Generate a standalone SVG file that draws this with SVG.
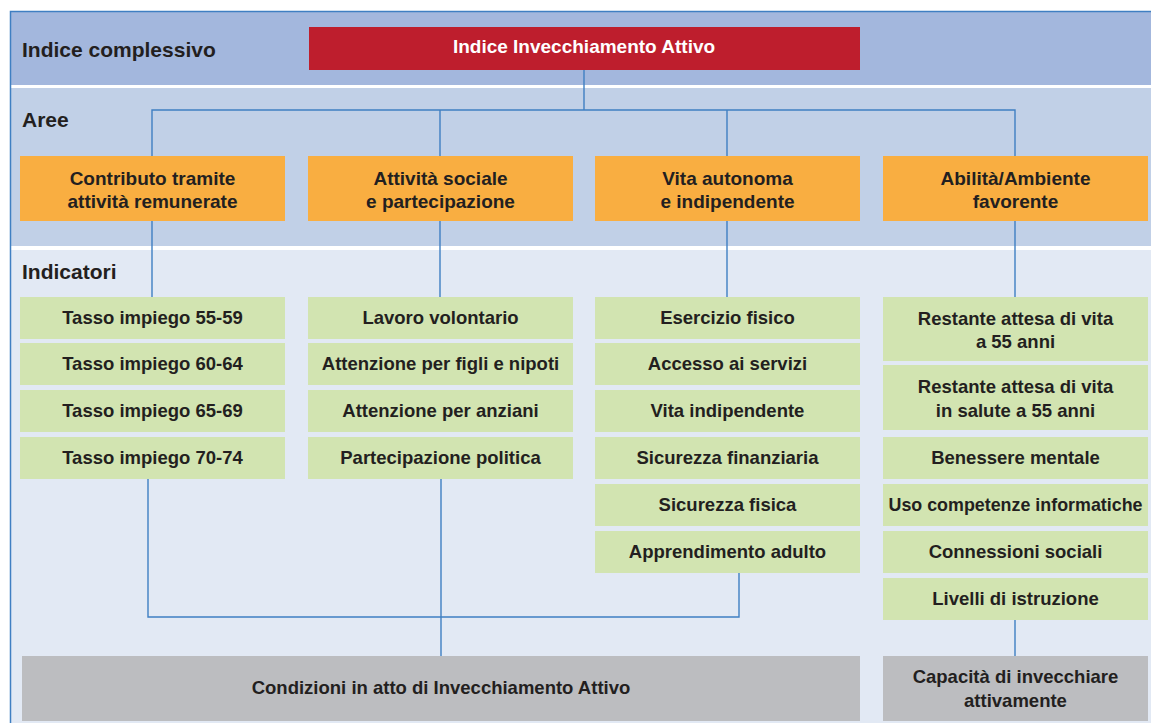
<svg xmlns="http://www.w3.org/2000/svg" width="1151" height="723" viewBox="0 0 1151 723">
<style>
text{font-family:"Liberation Sans",Arial,sans-serif;font-weight:bold;fill:#231f20;}
.t{font-size:18.5px;text-anchor:middle;}
.o{font-size:19px;text-anchor:middle;}
.h{font-size:21px;}
.g rect{fill:#d2e4b1;}
.or rect{fill:#f9ae41;}
.gr rect{fill:#bcbdc0;}
.c{stroke:#3f7fc2;stroke-width:1.4;fill:none;}
</style>
<rect x="0" y="0" width="1151" height="723" fill="#ffffff"/>
<g id="bands">
<rect x="10" y="11" width="1141" height="74" fill="#a3b7dd"/>
<rect x="10" y="88" width="1141" height="158" fill="#c1d0e7"/>
<rect x="10" y="250" width="1141" height="473" fill="#e2e9f4"/>
<path d="M10.5 723 V11.5 H1151" stroke="#3f7fc2" stroke-width="1.5" fill="none"/>
<text class="h" x="22" y="57">Indice complessivo</text>
<text class="h" x="22" y="127">Aree</text>
<text class="h" x="22" y="279">Indicatori</text>
</g>
<g id="connectors" class="c">
<path d="M584 69 V110 M152 156 V110 H1015 V156 M440 110 V156 M727 110 V156"/>
<path d="M152 221 V297 M440 221 V297 M727 221 V297 M1015 221 V297"/>
<path d="M148 479 V617 H739 V573 M441 479 V656 M1015 620 V656"/>
</g>
<g id="root">
<rect x="309" y="27" width="551" height="43" fill="#be1e2d"/>
<text x="584" y="53" style="font-size:19px;text-anchor:middle;fill:#ffffff">Indice Invecchiamento Attivo</text>
</g>
<g id="area1" class="or"><rect x="20" y="156" width="265" height="65"/><text class="o" x="152.5" y="185">Contributo tramite</text><text class="o" x="152.5" y="208">attività remunerate</text></g>
<g id="area2" class="or"><rect x="308" y="156" width="265" height="65"/><text class="o" x="440.5" y="185">Attività sociale</text><text class="o" x="440.5" y="208">e partecipazione</text></g>
<g id="area3" class="or"><rect x="595" y="156" width="265" height="65"/><text class="o" x="727.5" y="185">Vita autonoma</text><text class="o" x="727.5" y="208">e indipendente</text></g>
<g id="area4" class="or"><rect x="883" y="156" width="265" height="65"/><text class="o" x="1015.5" y="185">Abilità/Ambiente</text><text class="o" x="1015.5" y="208">favorente</text></g>

<g id="i1a" class="g"><rect x="20" y="297" width="265" height="42"/><text class="t" x="152.5" y="324">Tasso impiego 55-59</text></g>
<g id="i1b" class="g"><rect x="20" y="343" width="265" height="42"/><text class="t" x="152.5" y="370">Tasso impiego 60-64</text></g>
<g id="i1c" class="g"><rect x="20" y="390" width="265" height="42"/><text class="t" x="152.5" y="417">Tasso impiego 65-69</text></g>
<g id="i1d" class="g"><rect x="20" y="437" width="265" height="42"/><text class="t" x="152.5" y="464">Tasso impiego 70-74</text></g>

<g id="i2a" class="g"><rect x="308" y="297" width="265" height="42"/><text class="t" x="440.5" y="324">Lavoro volontario</text></g>
<g id="i2b" class="g"><rect x="308" y="343" width="265" height="42"/><text class="t" x="440.5" y="370">Attenzione per figli e nipoti</text></g>
<g id="i2c" class="g"><rect x="308" y="390" width="265" height="42"/><text class="t" x="440.5" y="417">Attenzione per anziani</text></g>
<g id="i2d" class="g"><rect x="308" y="437" width="265" height="42"/><text class="t" x="440.5" y="464">Partecipazione politica</text></g>

<g id="i3a" class="g"><rect x="595" y="297" width="265" height="42"/><text class="t" x="727.5" y="324">Esercizio fisico</text></g>
<g id="i3b" class="g"><rect x="595" y="343" width="265" height="42"/><text class="t" x="727.5" y="370">Accesso ai servizi</text></g>
<g id="i3c" class="g"><rect x="595" y="390" width="265" height="42"/><text class="t" x="727.5" y="417">Vita indipendente</text></g>
<g id="i3d" class="g"><rect x="595" y="437" width="265" height="42"/><text class="t" x="727.5" y="464">Sicurezza finanziaria</text></g>
<g id="i3e" class="g"><rect x="595" y="484" width="265" height="42"/><text class="t" x="727.5" y="511">Sicurezza fisica</text></g>
<g id="i3f" class="g"><rect x="595" y="531" width="265" height="42"/><text class="t" x="727.5" y="558">Apprendimento adulto</text></g>

<g id="i4a" class="g"><rect x="883" y="297" width="265" height="64"/><text class="t" x="1015.5" y="325">Restante attesa di vita</text><text class="t" x="1015.5" y="348">a 55 anni</text></g>
<g id="i4b" class="g"><rect x="883" y="365" width="265" height="65"/><text class="t" x="1015.5" y="393">Restante attesa di vita</text><text class="t" x="1015.5" y="417">in salute a 55 anni</text></g>
<g id="i4c" class="g"><rect x="883" y="437" width="265" height="42"/><text class="t" x="1015.5" y="464">Benessere mentale</text></g>
<g id="i4d" class="g"><rect x="883" y="484" width="265" height="42"/><text class="t" x="1015.5" y="511" textLength="254" lengthAdjust="spacingAndGlyphs">Uso competenze informatiche</text></g>
<g id="i4e" class="g"><rect x="883" y="531" width="265" height="42"/><text class="t" x="1015.5" y="558">Connessioni sociali</text></g>
<g id="i4f" class="g"><rect x="883" y="578" width="265" height="42"/><text class="t" x="1015.5" y="605">Livelli di istruzione</text></g>

<g id="out1" class="gr"><rect x="22" y="656" width="838" height="65"/><text class="t" x="441" y="694">Condizioni in atto di Invecchiamento Attivo</text></g>
<g id="out2" class="gr"><rect x="883" y="656" width="265" height="65"/><text class="t" x="1015.5" y="683">Capacità di invecchiare</text><text class="t" x="1015.5" y="707">attivamente</text></g>
</svg>
